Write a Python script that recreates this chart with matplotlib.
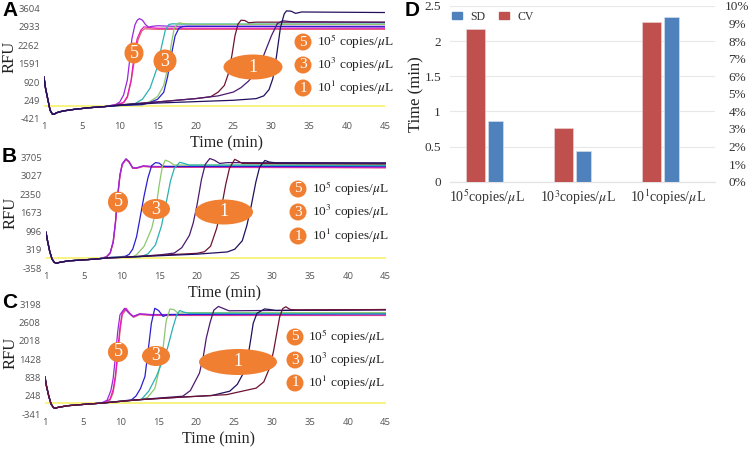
#!/usr/bin/env python3

import numpy as np
from matplotlib import pyplot as plt
from matplotlib.patches import Ellipse, Patch

plt.rcParams['font.family'] = ['Liberation Serif', 'DejaVu Serif']
plt.rcParams['mathtext.fontset'] = 'stix'

################################################################################
# data (time in min, RFU)
################################################################################

time_ticks = [0, 5, 10, 15, 20, 25, 30, 35, 40, 45]
time_labels = ['1', '5', '10', '15', '20', '25', '30', '35', '40', '45']
legend_labels = [r'10$^5$ copies/$\mu$L', r'10$^3$ copies/$\mu$L', r'10$^1$ copies/$\mu$L']
legend_marks = ['5', '3', '1']

PURPLE, MAGENTA, RED = '#9a28d8', '#e81cb4', '#e25a70'
CYAN, GREEN, BLUE = '#2bb0b4', '#8cc86c', '#2a1fd0'
DARKRED, DARKPURPLE, NAVY = '#6e1234', '#4c1a70', '#22105e'
YELLOW = '#f6f060'

# panel A
a_ticks = [-421, 249, 920, 1591, 2262, 2933, 3604]
a_yellow = 40
a_head_t = [0, 0.2, 0.5, 0.8, 1.1, 1.3, 1.7, 2.5, 4, 6, 8]
a_head_v = [1100, 700, 300, -100, -240, -250, -190, -130, -70, -10, 30]
a_curves = [
	(RED, [9.5, 10.5, 11, 11.5, 12, 12.4, 12.9, 13.3, 14, 15, 45],
	 [90, 170, 360, 950, 1850, 2450, 2780, 2860, 2850, 2840, 2840]),
	(MAGENTA, [9.5, 10.5, 11, 11.5, 11.9, 12.3, 12.8, 13.2, 14, 15, 45],
	 [90, 180, 400, 1000, 1900, 2500, 2820, 2930, 2900, 2880, 2880]),
	(PURPLE, [9.5, 10, 10.5, 11, 11.3, 11.6, 12, 12.3, 12.6, 13, 13.4, 13.8, 14.3, 15, 17, 45],
	 [110, 200, 450, 1000, 1700, 2500, 3000, 3170, 3230, 3170, 3010, 2920, 2950, 2970, 2950, 2950]),
	(CYAN, [10, 12, 13, 14, 15, 15.5, 16, 16.5, 17, 18, 45],
	 [70, 140, 300, 700, 1500, 2200, 2800, 3020, 3040, 3030, 3030]),
	(GREEN, [10, 13, 14, 15, 15.8, 16.3, 16.8, 17.2, 17.8, 18.3, 20, 45],
	 [70, 110, 220, 400, 800, 1400, 2300, 2900, 3080, 3050, 3020, 3020]),
	(BLUE, [10, 13, 14, 15, 15.8, 16.3, 16.8, 17.3, 17.8, 18.3, 19, 45],
	 [70, 100, 180, 300, 550, 1100, 1900, 2600, 2880, 2940, 2950, 2930]),
	(DARKRED, [10, 15, 20, 22, 23, 23.8, 24.3, 24.8, 25.2, 25.6, 26, 26.5, 27, 28, 45],
	 [90, 200, 320, 390, 560, 800, 1200, 1900, 2600, 3030, 3170, 3160, 3080, 3100, 3100]),
	(DARKPURPLE, [10, 15, 20, 23, 25, 26, 27, 28, 29, 30, 30.8, 31.5, 32.5, 45],
	 [90, 200, 320, 420, 560, 720, 960, 1300, 1900, 2600, 3050, 3150, 3120, 3090]),
	(NAVY, [10, 15, 20, 25, 28, 29, 29.7, 30.2, 30.7, 31.2, 31.7, 32, 32.6, 33.2, 34, 45],
	 [80, 160, 210, 260, 320, 420, 650, 1050, 1900, 2900, 3400, 3510, 3500, 3420, 3470, 3450]),
]

# panel B
b_ticks = [-358, 319, 996, 1673, 2350, 3027, 3705]
b_yellow = 8
b_head_t = [0, 0.2, 0.5, 0.8, 1.1, 1.4, 1.8, 3, 5, 7]
b_head_v = [960, 650, 250, -20, -140, -175, -140, -85, -50, -10]
b_curves = [
	(RED, [8, 8.5, 8.9, 9.2, 9.5, 9.8, 10.1, 10.6, 11, 11.5, 12, 12.9, 14, 45],
	 [50, 190, 570, 1280, 2260, 3020, 3430, 3620, 3520, 3300, 3300, 3370, 3340, 3320]),
	(MAGENTA, [8, 8.5, 8.9, 9.2, 9.5, 9.8, 10.1, 10.6, 11, 11.5, 12, 12.9, 14, 45],
	 [60, 200, 600, 1300, 2300, 3050, 3450, 3640, 3540, 3310, 3310, 3390, 3360, 3330]),
	(PURPLE, [8, 8.5, 8.9, 9.2, 9.5, 9.8, 10.1, 10.6, 11, 11.5, 12, 12.9, 14, 45],
	 [60, 210, 630, 1350, 2350, 3080, 3470, 3650, 3550, 3320, 3320, 3390, 3370, 3360]),
	(BLUE, [8, 10.5, 11, 11.5, 12, 12.5, 13, 13.5, 14, 14.5, 15, 15.5, 16, 45],
	 [30, 80, 150, 350, 800, 1550, 2300, 2950, 3400, 3510, 3490, 3380, 3370, 3380]),
	(GREEN, [8, 11.5, 12, 13, 14, 14.5, 15, 15.4, 15.8, 16.3, 17, 18, 45],
	 [30, 70, 140, 450, 1100, 1700, 2700, 3350, 3600, 3550, 3420, 3420, 3430]),
	(CYAN, [8, 12.5, 13.5, 14.5, 15.3, 16, 16.5, 17, 17.7, 18.3, 19, 45],
	 [30, 60, 170, 500, 1200, 2150, 2850, 3300, 3520, 3480, 3420, 3400]),
	(DARKPURPLE, [8, 10, 15, 17, 18, 19, 19.5, 20, 20.6, 21.1, 21.7, 22.3, 23, 24, 45],
	 [20, 40, 130, 200, 400, 850, 1300, 1950, 2900, 3450, 3660, 3600, 3480, 3510, 3500]),
	(DARKRED, [8, 10, 15, 20, 21, 21.8, 22.6, 23.2, 23.8, 24.3, 25, 25.5, 26, 45],
	 [20, 40, 120, 190, 250, 450, 1100, 1800, 2700, 3300, 3630, 3560, 3480, 3460]),
	(NAVY, [8, 20, 24, 25, 26, 26.6, 27.2, 27.8, 28.3, 29, 29.6, 30.5, 45],
	 [20, 160, 240, 340, 650, 1200, 1950, 2800, 3350, 3590, 3530, 3500, 3490]),
]

# panel C
c_ticks = [-341, 248, 838, 1428, 2018, 2608, 3198]
c_yellow = 12
c_head_t = [0, 0.2, 0.5, 0.8, 1.1, 1.3, 1.7, 3, 5, 7]
c_head_v = [850, 560, 240, -10, -120, -150, -120, -65, -25, 10]
c_curves = [
	(RED, [8, 8.6, 9, 9.3, 9.6, 9.9, 10.2, 10.7, 11.2, 11.7, 12.5, 14, 45],
	 [40, 120, 350, 800, 1500, 2300, 2850, 3020, 2880, 2770, 2860, 2830, 2830]),
	(MAGENTA, [8, 8.6, 9, 9.3, 9.6, 9.9, 10.2, 10.7, 11.2, 11.7, 12.5, 14, 45],
	 [40, 150, 450, 900, 1650, 2450, 2920, 3060, 2900, 2790, 2880, 2850, 2850]),
	(PURPLE, [7.6, 8.2, 8.7, 9, 9.3, 9.6, 9.9, 10.5, 11, 11.6, 12.5, 14, 45],
	 [40, 110, 420, 800, 1500, 2300, 2850, 3060, 2930, 2800, 2880, 2860, 2860]),
	(BLUE, [8, 11.4, 12, 12.6, 13.2, 13.6, 14.05, 14.5, 15, 15.6, 16.2, 45],
	 [30, 120, 240, 480, 870, 1650, 2580, 3060, 2990, 2800, 2860, 2900]),
	(GREEN, [8, 12.5, 13.5, 14.5, 15, 15.6, 16, 16.5, 17, 17.6, 18.5, 45],
	 [30, 130, 190, 480, 1000, 1800, 2650, 3040, 3020, 2900, 2920, 2920]),
	(CYAN, [8, 12.7, 13.7, 14.7, 15.5, 16.2, 16.9, 17.4, 17.8, 18.3, 19, 45],
	 [30, 130, 400, 870, 1350, 1800, 2450, 2850, 2990, 2940, 2900, 2880]),
	(DARKPURPLE, [8, 12, 15, 18.2, 19.2, 20.4, 20.9, 21.3, 21.8, 22.3, 22.9, 23.5, 24.3, 45],
	 [30, 120, 180, 240, 420, 980, 1500, 2100, 2600, 3000, 3120, 3060, 2980, 3020]),
	(NAVY, [8, 12, 18, 22, 24.4, 25.4, 26.2, 26.7, 27.2, 27.5, 28, 29, 29.7, 30.5, 45],
	 [30, 120, 210, 260, 400, 620, 980, 1350, 2100, 2580, 2900, 3040, 3020, 2990, 3010]),
	(DARKRED, [8, 12, 18, 24, 27.9, 28.9, 29.7, 30.2, 30.6, 31, 31.4, 31.8, 32.4, 33.2, 45],
	 [30, 120, 210, 290, 500, 700, 1170, 1700, 2250, 2790, 3050, 3110, 3020, 3010, 3020]),
]

# panel D
categories = [r'10$^5$copies/$\mu$L', r'10$^3$copies/$\mu$L', r'10$^1$copies/$\mu$L']
sd_values = [0.87, 0.44, 2.34]
cv_values = [8.7, 3.05, 9.07]
time_axis_ticks = [0, 0.5, 1, 1.5, 2, 2.5]
time_axis_labels = ['0', '0.5', '1', '1.5', '2', '2.5']
cv_axis_ticks = [0, 1, 2, 3, 4, 5, 6, 7, 8, 9, 10]

################################################################################
# helpers
################################################################################

W, H = 749, 449
fig = plt.figure(figsize=(W / 100, H / 100), dpi=100)

def axes_px (left, top, right, bottom):
	return fig.add_axes([left / W, 1 - bottom / H, (right - left) / W, (bottom - top) / H])

def plot_panel (ax, ticks, yellow, head_t, head_v, curves):
	ax.plot([0, 45], [yellow, yellow], color=YELLOW, lw=1.1)
	for color, t, v in curves:
		ax.plot(list(head_t) + t, list(head_v) + v, color=color, lw=0.9, solid_joinstyle='round')
	ax.set_xlim(0, 45)
	ax.set_ylim(ticks[0], ticks[-1])
	ax.set_xticks(time_ticks, time_labels)
	ax.set_yticks(ticks, [str(tick) for tick in ticks])
	ax.tick_params(length=0, labelsize=6.8, labelcolor='#555555')
	ax.tick_params(axis='x', pad=2.5)
	ax.tick_params(axis='y', pad=3)
	for label in ax.get_xticklabels() + ax.get_yticklabels():
		label.set_family(['Open Sans', 'DejaVu Sans'])
	for spine in ax.spines.values():
		spine.set_visible(False)
	ax.patch.set_alpha(0)

def blob (ax, x, y, width, height, mark, size=13):
	ax.add_patch(Ellipse((x, y), width, height, color='#f07f32', lw=0))
	ax.text(x, y, mark, color='white', fontsize=size, ha='center', va='center')

################################################################################
# panels A, B, C
################################################################################

plot_panel(axes_px(44, 8.3, 385, 119), a_ticks, a_yellow, a_head_t, a_head_v, a_curves)
plot_panel(axes_px(46, 157.3, 385.7, 268.3), b_ticks, b_yellow, b_head_t, b_head_v, b_curves)
plot_panel(axes_px(45, 304, 385.7, 414.3), c_ticks, c_yellow, c_head_t, c_head_v, c_curves)

################################################################################
# panel D
################################################################################

bar_x = np.arange(len(categories))
px_per_cat = 88
ax_d = axes_px(450, 6, 715, 181.7)
ax_d.set_xlim((450 - 485.5) / px_per_cat, (715 - 485.5) / px_per_cat)
ax_d.set_ylim(0, 2.5)
ax_d.bar(bar_x + 0.11, sd_values, width=0.17, color='#4f81bd', edgecolor='#dfe6f0', lw=0.4, zorder=3)
ax_d.set_yticks(time_axis_ticks, time_axis_labels)
ax_d.set_xticks([0.017, 1.045, 2.074], categories)
ax_d.tick_params(length=0, labelsize=10, labelcolor='#333333')
ax_d.tick_params(axis='y', pad=6.5, labelsize=9.5)
ax_d.tick_params(axis='x', pad=4.5)
ax_d.grid(axis='y', color='#e8e8e8', lw=0.8, zorder=0)
ax_d.set_axisbelow(True)
ax_d.set_ylabel('Time (min)', fontsize=12, labelpad=0, color='#222222')

ax_cv = ax_d.twinx()
ax_cv.set_ylim(0, 10)
ax_cv.bar(bar_x - 0.11, cv_values, width=0.217, color='#c0504d', edgecolor='#e8d8d8', lw=0.4, zorder=3)
ax_cv.set_yticks(cv_axis_ticks, ['%d%%' % tick for tick in cv_axis_ticks])
ax_cv.tick_params(length=0, pad=16, labelsize=9.5, labelcolor='#333333')
for label in ax_cv.get_yticklabels():
	label.set_ha('center')
for ax in (ax_d, ax_cv):
	for side, spine in ax.spines.items():
		spine.set_visible(side == 'bottom')
		spine.set_color('#e4e4e4')

ax_cv.legend(handles=[Patch(color='#4f81bd', label='SD'), Patch(color='#c0504d', label='CV')],
			 loc='upper left', bbox_to_anchor=(0.0, 0.985), ncol=2, frameon=False,
			 fontsize=8.5, handlelength=0.85, handleheight=0.55, handletextpad=0.7,
			 columnspacing=1.1, labelcolor='#333333', borderpad=0.1, borderaxespad=0.1)

################################################################################
# overlay in picture pixels: labels, letters and orange marks
################################################################################

over = fig.add_axes([0, 0, 1, 1])
over.set_xlim(0, W)
over.set_ylim(H, 0)
over.axis('off')
over.patch.set_alpha(0)

for letter, x, y in [('A', 2, 11), ('B', 2, 156), ('C', 2, 302), ('D', 405, 11)]:
	over.text(x, y, letter, fontsize=15, fontweight='bold', va='center',
			  family=['Liberation Sans', 'DejaVu Sans'])

for x, y in [(227, 143), (224, 293), (218, 439)]:
	over.text(x, y, 'Time (min)', fontsize=11.5, ha='center', va='center', color='#222222')
for x, y in [(10, 57), (11, 213), (11, 353)]:
	over.text(x, y, 'RFU', fontsize=12, rotation=90, ha='center', va='center', color='#222222')

blob(over, 134, 53, 19, 21, '5')
blob(over, 165, 61, 23, 23, '3')
blob(over, 253, 67, 59, 25, '1')
blob(over, 118, 202, 20, 21, '5')
blob(over, 156, 209, 28, 20, '3')
blob(over, 224, 212, 58, 25, '1')
blob(over, 118, 352, 20, 20, '5')
blob(over, 156, 356, 28, 20, '3')
blob(over, 238, 362, 78, 26, '1')

for circle_x, text_x, rows in [(303, 317, [42, 65, 88]),
							   (298, 312, [189, 212, 236]),
							   (295, 308, [337, 360, 383])]:
	for row, mark, label in zip(rows, legend_marks, legend_labels):
		blob(over, circle_x, row, 17, 17, mark, size=11)
		over.text(text_x, row, label, fontsize=9.6, va='center', color='#222222')

plt.savefig('out.png', dpi=100)
plt.close()
